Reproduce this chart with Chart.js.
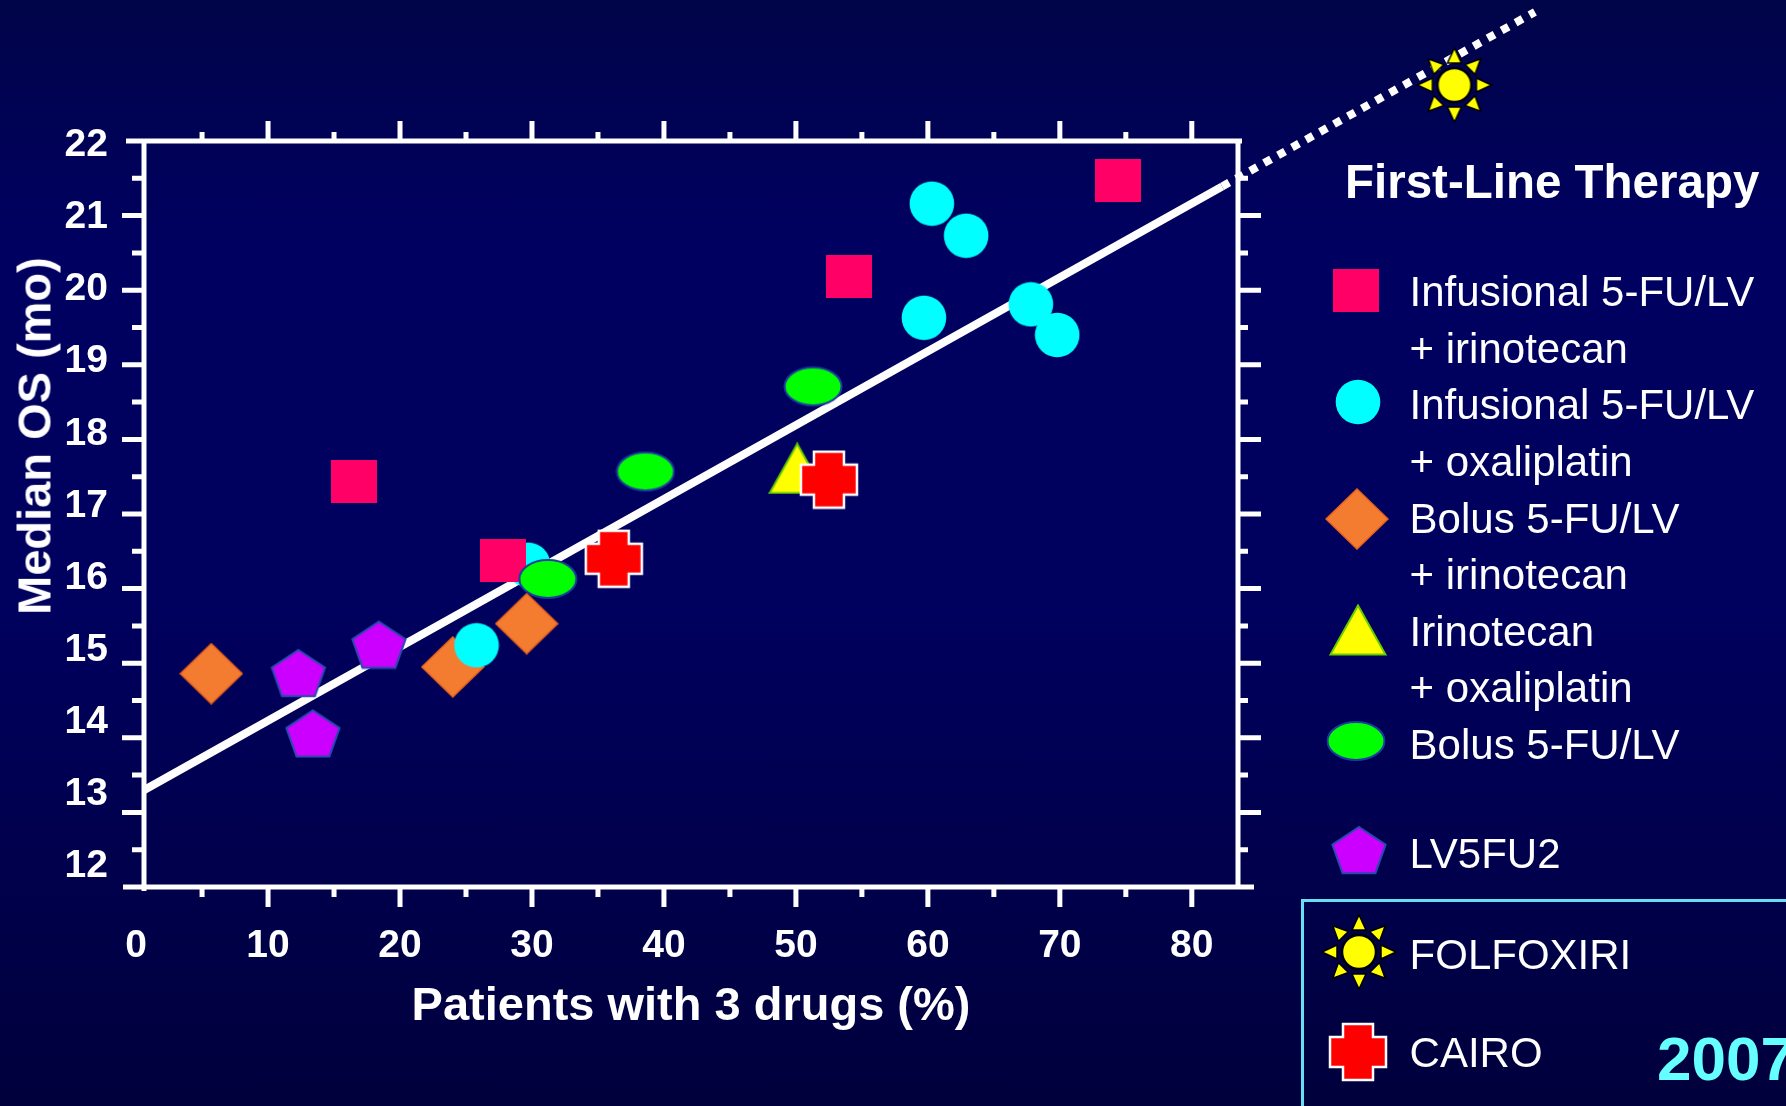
<!DOCTYPE html>
<html>
<head>
<meta charset="utf-8">
<script src="https://cdn.jsdelivr.net/npm/chart.js@4/dist/chart.umd.min.js"></script>
<style>
  body { margin: 0; background: #000040; }
  #wrap {
    position: relative; width: 1786px; height: 1106px; overflow: hidden;
    background: linear-gradient(to bottom, #000448 0%, #000060 22%, #00005e 55%, #00003c 100%);
    font-family: "Liberation Sans", Arial, sans-serif; color: #fff;
  }
  #chart { position: absolute; left: 0; top: 0; display: block; }
  .txt { position: absolute; white-space: nowrap; line-height: 1; }
  .mk { position: absolute; }
</style>
</head>
<body>
<div id="wrap">
  <canvas id="chart" width="1786" height="1106"></canvas>
</div>
<script>
// --- data (x = patients with 3 drugs %, y = median OS months) ---
const seriesNames = [
  ['Infusional 5-FU/LV', '+ irinotecan'],
  ['Infusional 5-FU/LV', '+ oxaliplatin'],
  ['Bolus 5-FU/LV', '+ irinotecan'],
  ['Irinotecan', '+ oxaliplatin'],
  ['Bolus 5-FU/LV'],
  ['LV5FU2'],
  ['FOLFOXIRI'],
  ['CAIRO']
];

const infIriX = [16.5, 27.8, 54.0, 74.4];
const infIriY = [17.44, 16.37, 20.18, 21.47];

const infOxX = [60.3, 62.9, 59.7, 67.8, 69.8, 25.8, 29.7];
const infOxY = [21.16, 20.73, 19.63, 19.81, 19.40, 15.24, 16.32];

const bolIriX = [5.7, 24.0, 29.6];
const bolIriY = [14.86, 14.95, 15.53];

const iriOxX = [50.1];
const iriOxY = [17.61];

const bolusX = [38.6, 51.3, 31.2];
const bolusY = [17.57, 18.71, 16.13];

const lv5fu2X = [12.3, 13.4, 18.4];
const lv5fu2Y = [14.87, 14.06, 15.25];

const folfoxiriX = [99.9];
const folfoxiriY = [22.75];

const cairoX = [36.2, 52.5];
const cairoY = [16.40, 17.46];

// regression line and its dotted extension
const fitX = [0, 82.3];
const fitY = [13.24, 21.39];
const extX = [82.3, 106];
const extY = [21.39, 23.73];

const xTickValues = [0, 10, 20, 30, 40, 50, 60, 70, 80];
const yTickValues = [12, 13, 14, 15, 16, 17, 18, 19, 20, 21, 22];

function pts(xs, ys) {
  return xs.map((x, i) => ({ x: x, y: ys[i] }));
}

// marker shapes drawn once on small canvases, used as pointStyle and in legend
function makeMarker(kind) {
  const c = document.createElement('canvas');
  const g = c.getContext('2d');
  function poly(list) {
    g.beginPath();
    list.forEach((p, i) => i ? g.lineTo(p[0], p[1]) : g.moveTo(p[0], p[1]));
    g.closePath();
  }
  if (kind === 'square') {
    c.width = 46; c.height = 43;
    g.fillStyle = '#ff0066';
    g.fillRect(0, 0, 46, 43);
  } else if (kind === 'circle') {
    c.width = 46; c.height = 46;
    g.fillStyle = '#00ffff';
    g.beginPath(); g.arc(23, 23, 22.3, 0, Math.PI * 2); g.fill();
  } else if (kind === 'diamond') {
    c.width = 64; c.height = 62;
    poly([[32, 1], [63, 31], [32, 61], [1, 31]]);
    g.fillStyle = '#f47c30'; g.fill();
    g.strokeStyle = '#e8621a'; g.lineWidth = 1.5; g.stroke();
  } else if (kind === 'triangle') {
    c.width = 58; c.height = 52;
    poly([[29, 1.5], [56.5, 50.5], [1.5, 50.5]]);
    g.fillStyle = '#ffff00'; g.fill();
    g.strokeStyle = '#66cc00'; g.lineWidth = 2; g.stroke();
  } else if (kind === 'ellipse') {
    c.width = 60; c.height = 42;
    g.beginPath(); g.ellipse(30, 21, 28.5, 19, 0, 0, Math.PI * 2);
    g.fillStyle = '#00ff00'; g.fill();
    g.strokeStyle = '#1f3a9e'; g.lineWidth = 2; g.stroke();
  } else if (kind === 'pentagon') {
    c.width = 58; c.height = 50;
    const list = [];
    for (let k = 0; k < 5; k++) {
      const a = -Math.PI / 2 + k * 2 * Math.PI / 5;
      list.push([29 + 28 * Math.cos(a), 27.5 + 25.5 * Math.sin(a)]);
    }
    poly(list);
    g.fillStyle = '#cc00ff'; g.fill();
    g.strokeStyle = '#2a48b0'; g.lineWidth = 2; g.stroke();
  } else if (kind === 'sun') {
    c.width = 80; c.height = 80;
    const cx = 40, cy = 40;
    g.lineWidth = 1.5; g.strokeStyle = '#000'; g.fillStyle = '#ffff00';
    for (let k = 0; k < 8; k++) {
      const a = k * Math.PI / 4;
      const ca = Math.cos(a), sa = Math.sin(a);
      poly([
        [cx + ca * 37, cy + sa * 37],
        [cx + ca * 22 - sa * 7, cy + sa * 22 + ca * 7],
        [cx + ca * 22 + sa * 7, cy + sa * 22 - ca * 7]
      ]);
      g.fill(); g.stroke();
    }
    g.beginPath(); g.arc(cx, cy, 17, 0, Math.PI * 2);
    g.fill(); g.lineWidth = 2.5; g.stroke();
  } else if (kind === 'cross') {
    c.width = 60; c.height = 60;
    const h = 28, a = 15, o = 30;
    poly([[-a, -h], [a, -h], [a, -a], [h, -a], [h, a], [a, a], [a, h], [-a, h], [-a, a], [-h, a], [-h, -a], [-a, -a]]
      .map(p => [p[0] + o, p[1] + o]));
    g.fillStyle = '#ff0000'; g.fill();
    g.strokeStyle = '#ffffff'; g.lineWidth = 2.5; g.stroke();
  }
  return c;
}

// frame box with outward ticks on all four sides
const frame = {
  id: 'frame',
  beforeDatasetsDraw(chart) {
    const { ctx, chartArea: a, scales: { x, y } } = chart;
    ctx.save();
    ctx.strokeStyle = '#ffffff';
    ctx.lineWidth = 5;
    ctx.beginPath();
    ctx.moveTo(a.left - 18, a.top); ctx.lineTo(a.right + 4, a.top);
    ctx.moveTo(a.left - 21, a.bottom); ctx.lineTo(a.right + 16, a.bottom);
    ctx.moveTo(a.left, a.top - 2); ctx.lineTo(a.left, a.bottom + 4);
    ctx.moveTo(a.right, a.top - 2); ctx.lineTo(a.right, a.bottom);
    for (let v = 5; v <= 80; v += 5) {
      const px = x.getPixelForValue(v);
      const major = v % 10 === 0;
      ctx.moveTo(px, a.bottom); ctx.lineTo(px, a.bottom + (major ? 20 : 10));
      ctx.moveTo(px, a.top); ctx.lineTo(px, a.top - (major ? 20 : 9));
    }
    for (let v = 12.5; v < 22; v += 0.5) {
      const py = y.getPixelForValue(v);
      const major = v % 1 === 0;
      ctx.moveTo(a.left, py); ctx.lineTo(a.left - (major ? 22 : 12), py);
      ctx.moveTo(a.right, py); ctx.lineTo(a.right + (major ? 23 : 10), py);
    }
    ctx.stroke();
    ctx.restore();
  }
};

const font = '"Liberation Sans", Arial, sans-serif';

new Chart(document.getElementById('chart'), {
  type: 'scatter',
  data: {
    datasets: [
      { label: 'fit', data: pts(fitX, fitY), showLine: true, borderColor: '#ffffff',
        borderWidth: 8, pointRadius: 0, order: 10 },
      { label: 'extension', data: pts(extX, extY), showLine: true, borderColor: '#ffffff',
        borderWidth: 8, borderDash: [8, 8], pointRadius: 0, clip: false, order: 10 },
      { label: seriesNames[7].join(' '), data: pts(cairoX, cairoY), pointStyle: makeMarker('cross'), order: 1 },
      { label: seriesNames[3].join(' '), data: pts(iriOxX, iriOxY), pointStyle: makeMarker('triangle'), order: 2 },
      { label: seriesNames[4].join(' '), data: pts(bolusX, bolusY), pointStyle: makeMarker('ellipse'), order: 2 },
      { label: seriesNames[0].join(' '), data: pts(infIriX, infIriY), pointStyle: makeMarker('square'), order: 2 },
      { label: seriesNames[5].join(' '), data: pts(lv5fu2X, lv5fu2Y), pointStyle: makeMarker('pentagon'), order: 3 },
      { label: seriesNames[1].join(' '), data: pts(infOxX, infOxY), pointStyle: makeMarker('circle'), order: 4 },
      { label: seriesNames[2].join(' '), data: pts(bolIriX, bolIriY), pointStyle: makeMarker('diamond'), order: 5 },
      { label: seriesNames[6].join(' '), data: pts(folfoxiriX, folfoxiriY), pointStyle: makeMarker('sun'),
        pointRadius: 400, clip: false, order: 1 }
    ]
  },
  options: {
    responsive: false,
    animation: false,
    devicePixelRatio: 1,
    layout: { autoPadding: false, padding: { top: 141, right: 548, left: 0, bottom: 0 } },
    plugins: { legend: { display: false }, tooltip: { enabled: false } },
    scales: {
      x: {
        type: 'linear', min: 0.6, max: 83.5,
        afterBuildTicks: s => { s.ticks = xTickValues.map(v => ({ value: v })); },
        afterFit: s => { s.height = 219; },
        grid: { display: false, drawTicks: false }, border: { display: false },
        ticks: { color: '#ffffff', padding: 36, autoSkip: false, maxRotation: 0,
          font: { family: font, size: 39, weight: 'bold' } },
        title: { display: true, text: 'Patients with 3 drugs (%)', color: '#ffffff',
          font: { family: font, size: 47, weight: 'bold' }, padding: { top: 0, bottom: 71 } }
      },
      // value axis used by the data and by the tick marks
      y: {
        type: 'linear', min: 12, max: 22, display: false
      },
      // label axis: the slide's number column is spaced a little tighter than its tick marks
      yLabels: {
        type: 'linear', position: 'left', min: 11.65, max: 22.01,
        afterBuildTicks: s => { s.ticks = yTickValues.map(v => ({ value: v })); },
        afterFit: s => { s.width = 144; },
        grid: { display: false, drawTicks: false }, border: { display: false },
        ticks: { color: '#ffffff', padding: 36, labelOffset: 4, autoSkip: false,
          font: { family: font, size: 39, weight: 'bold' } }
      }
    }
  },
  plugins: [frame]
});

// --- legend and annotations (html) ---
const wrap = document.getElementById('wrap');
function addText(str, left, baseline, size, opts) {
  const d = document.createElement('div');
  d.className = 'txt';
  d.textContent = str;
  d.style.left = left + 'px';
  d.style.top = (baseline - 0.8465 * size) + 'px';
  d.style.fontSize = size + 'px';
  if (opts && opts.bold) d.style.fontWeight = 'bold';
  if (opts && opts.color) d.style.color = opts.color;
  wrap.appendChild(d);
  return d;
}
function addMarker(kind, cx, cy) {
  const m = makeMarker(kind);
  m.className = 'mk';
  m.style.left = (cx - m.width / 2) + 'px';
  m.style.top = (cy - m.height / 2) + 'px';
  wrap.appendChild(m);
}

// boxed part of legend
const box = document.createElement('div');
box.style.cssText = 'position:absolute;left:1301px;top:899px;width:600px;height:400px;border:3px solid #66e0f0;';
wrap.appendChild(box);

// rotated y title
const yt = document.createElement('div');
yt.className = 'txt';
yt.textContent = 'Median OS (mo)';
yt.style.cssText += 'font-size:47px;font-weight:bold;left:34px;top:436px;height:47px;transform:translate(-50%,-50%) rotate(-90deg);';
wrap.appendChild(yt);

addText('First-Line Therapy', 1345, 198, 47.5, { bold: true });

const legendKinds = ['square', 'circle', 'diamond', 'triangle', 'ellipse', 'pentagon', 'sun', 'cross'];
const legendMarkerPos = [[1356, 290], [1357.5, 402], [1356.5, 519], [1357.5, 630], [1355.5, 740.5], [1358.5, 850], [1358.5, 952], [1358, 1052]];
const legendBaselines = [[306.7, 363.3], [419.9, 476.5], [533.1, 589.7], [646.3, 702.9], [759.5], [869], [970], [1067.3]];

seriesNames.forEach((lines, i) => {
  addMarker(legendKinds[i], legendMarkerPos[i][0], legendMarkerPos[i][1]);
  lines.forEach((ln, j) => addText(ln, 1409.6, legendBaselines[i][j], 42));
});

addText('2007', 1657, 1080, 62, { bold: true, color: '#66ffff' });
</script>
</body>
</html>
